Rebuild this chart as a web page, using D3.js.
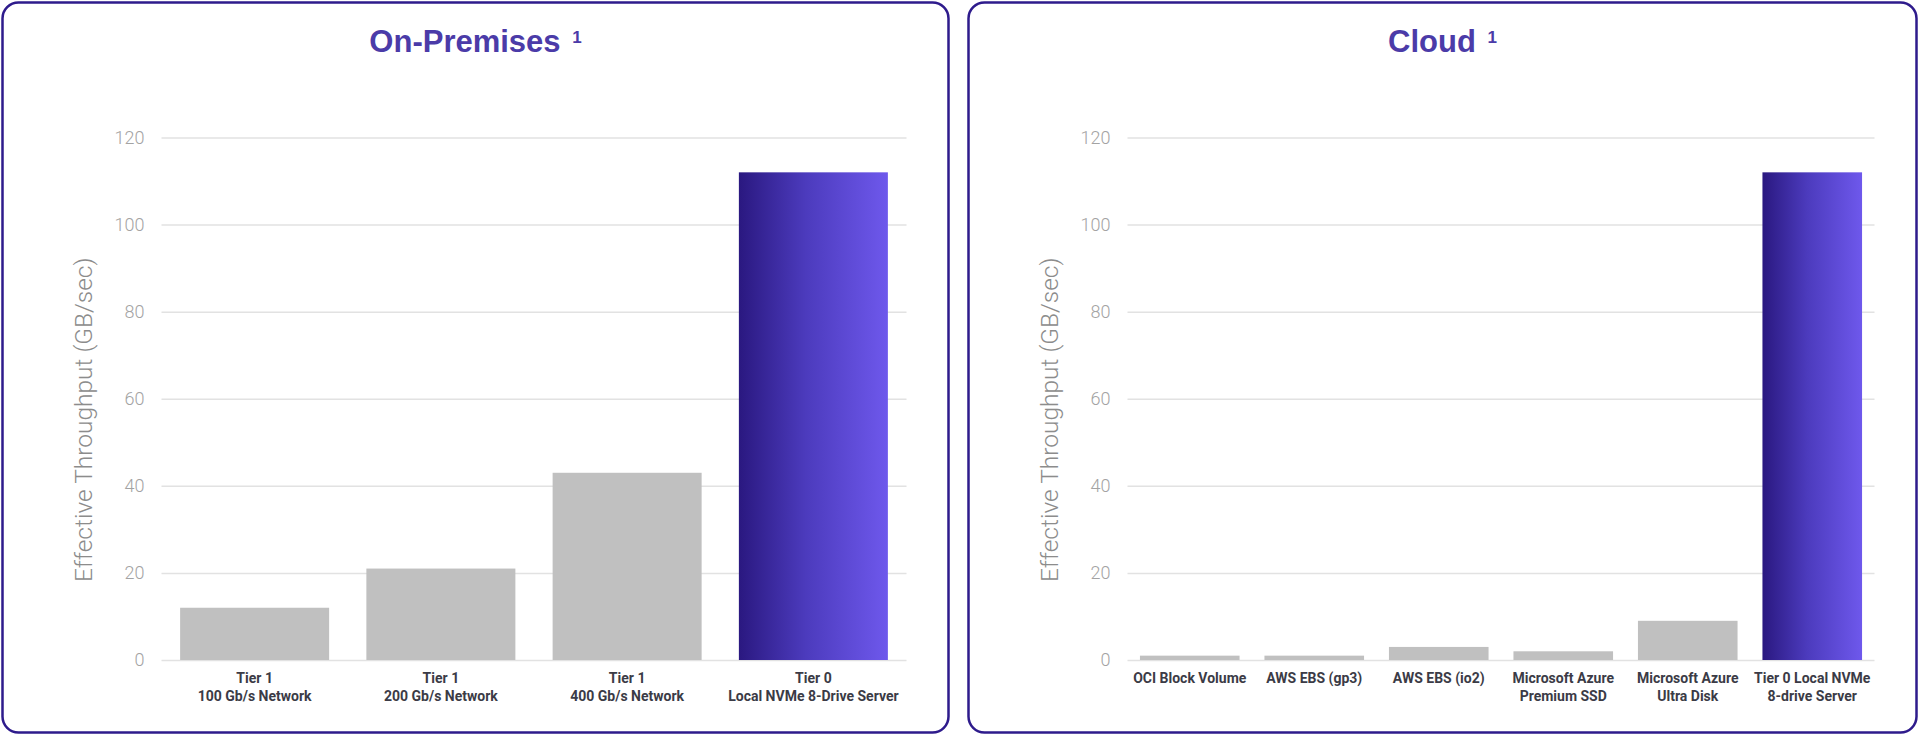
<!DOCTYPE html>
<html>
<head>
<meta charset="utf-8">
<script src="https://cdn.jsdelivr.net/npm/d3@7"></script>
<style>
  html, body { margin: 0; padding: 0; background: #ffffff; }
  svg { display: block; }
</style>
</head>
<body>
<svg id="chart" width="1920" height="735"></svg>
<script>
// ---- data ----
const onPremCategories = [
  ["Tier 1", "100 Gb/s Network"],
  ["Tier 1", "200 Gb/s Network"],
  ["Tier 1", "400 Gb/s Network"],
  ["Tier 0", "Local NVMe 8-Drive Server"]
];
const onPremValues = [12, 21, 43, 112];

const cloudCategories = [
  ["OCI Block Volume"],
  ["AWS EBS (gp3)"],
  ["AWS EBS (io2)"],
  ["Microsoft Azure", "Premium SSD"],
  ["Microsoft Azure", "Ultra Disk"],
  ["Tier 0 Local NVMe", "8-drive Server"]
];
const cloudValues = [1, 1, 3, 2, 9, 112];

const yTicks = [0, 20, 40, 60, 80, 100, 120];
const yAxisTitle = "Effective Throughput (GB/sec)";
const panelTitles = ["On-Premises", "Cloud"];
const footnoteMark = "1";

// ---- drawing ----
const svg = d3.select("#chart");
const defs = svg.append("defs");
const grad = defs.append("linearGradient").attr("id", "tier0grad")
  .attr("x1", "0%").attr("x2", "100%").attr("y1", "0%").attr("y2", "0%");
grad.append("stop").attr("offset", "0%").attr("stop-color", "#2a1880");
grad.append("stop").attr("offset", "45%").attr("stop-color", "#4c3bbd");
grad.append("stop").attr("offset", "100%").attr("stop-color", "#6e58ec");

const y = d3.scaleLinear().domain([0, 120]).range([660, 137.5]);

function drawPanel(px, pw, title, cats, vals) {
  const g = svg.append("g");
  g.append("rect")
    .attr("x", px).attr("y", 2.5)
    .attr("width", pw).attr("height", 730)
    .attr("rx", 16).attr("ry", 16)
    .attr("fill", "#ffffff")
    .attr("stroke", "#2e1b8c").attr("stroke-width", 2.5);

  // title
  const t = g.append("text")
    .attr("x", px + pw / 2).attr("y", 52)
    .attr("text-anchor", "middle")
    .attr("font-family", "'Liberation Sans', Arial, sans-serif")
    .attr("font-weight", "bold")
    .attr("font-size", 31)
    .attr("fill", "#4b3ba8");
  t.append("tspan").text(title + " ");
  t.append("tspan").attr("font-size", 17).attr("dx", 3).attr("dy", -9).text(footnoteMark);

  const x0 = px + 159, x1 = px + pw - 42;
  const x = d3.scaleBand().domain(d3.range(cats.length))
    .range([x0, x1]).paddingInner(0.2).paddingOuter(0.1);

  // grid + ticks
  const axis = d3.axisLeft(y).tickValues(yTicks).tickSize(-(x1 - x0)).tickPadding(17);
  const ag = g.append("g").attr("transform", `translate(${x0},0)`).call(axis);
  ag.select(".domain").remove();
  ag.selectAll(".tick line").attr("stroke", "#e2e2e2").attr("stroke-width", 1.5);
  ag.selectAll(".tick text")
    .attr("font-family", "Roboto, sans-serif")
    .attr("font-weight", 300)
    .attr("font-size", 18)
    .attr("fill", "#a3a3a3");

  // y-axis title
  g.append("text")
    .attr("transform", `translate(${px + 89},${(y(0) + y(120)) / 2 + 21}) rotate(-90)`)
    .attr("text-anchor", "middle")
    .attr("font-family", "Roboto, sans-serif")
    .attr("font-weight", 300)
    .attr("font-size", 24.5)
    .attr("fill", "#8c8c8c")
    .text(yAxisTitle);

  // bars
  const last = vals.length - 1;
  g.selectAll("rect.bar").data(vals).join("rect")
    .attr("class", "bar")
    .attr("x", (d, i) => x(i))
    .attr("width", x.bandwidth())
    .attr("y", d => y(d))
    .attr("height", d => y(0) - y(d))
    .attr("fill", (d, i) => i === last ? "url(#tier0grad)" : "#c0c0c0");

  // category labels
  const lg = g.selectAll("text.cat").data(cats).join("text")
    .attr("class", "cat")
    .attr("text-anchor", "middle")
    .attr("font-family", "Roboto, sans-serif")
    .attr("font-weight", 700)
    .attr("font-size", 14)
    .attr("fill", "#3b3b46");
  lg.each(function(lines, i) {
    const sel = d3.select(this);
    lines.forEach((ln, k) => {
      sel.append("tspan")
        .attr("x", x(i) + x.bandwidth() / 2)
        .attr("y", 683 + k * 17.5)
        .text(ln);
    });
  });
}

drawPanel(2.5, 946, panelTitles[0], onPremCategories, onPremValues);
drawPanel(968.5, 948, panelTitles[1], cloudCategories, cloudValues);
</script>
</body>
</html>
